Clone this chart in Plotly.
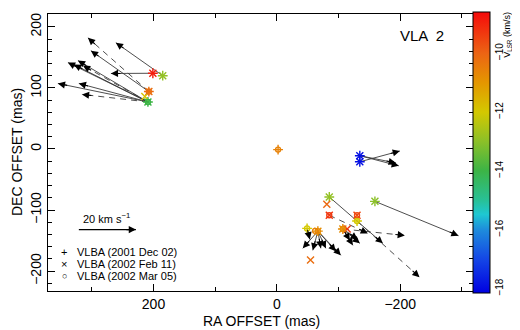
import math
import plotly.graph_objects as go

# ---------------- data (mas, km/s) ----------------
feat_ra   = [209, 201, 185, 207.5, 214, -2, -134.5, -134.5, -85, -81, -85, -130, -130, -49, -66.5, -62, -107, -114, -54.6, -159]
feat_dec  = [77, 124, 120, 94, 86, -1, -11, -21, -78.5, -90.5, -108.5, -108.5, -118, -130, -134.5, -134, -131, -131, -181.6, -85.7]
feat_vlsr = [-14.0, -8.9, -12.9, -10.2, -11.9, -10.6, -17.9, -17.9, -12.9, -10.1, -9.3, -9.6, -12.0, -12.0, -10.8, -10.6, -10.8, -9.3, -10.2, -13.0]
feat_epochs = ["pxo", "px", "px", "pxo", "x", "po", "px", "px", "px", "x", "xo", "xo", "po", "po", "pxo", "o", "pxo", "x", "x", "px"]

# proper-motion arrows: start (feature position) and tip (mas), dashed flag
arr_x0 = [209, 209, 209, 209, 209, 209, 209, 207.5, 207.5, 185, 201,
          -134.5, -134.5, -134.5,
          -85, -159, -85, -107, -130, -107, -107, -107, -107,
          -66.5, -66.5, -66.5, -66.5, -66.5, -66.5, -49]
arr_y0 = [77, 77, 77, 77, 77, 77, 77, 94, 94, 120, 124,
          -21, -11, -11,
          -78.5, -85.7, -108.5, -131, -118, -131, -131, -131, -131,
          -134.5, -134.5, -134.5, -134.5, -134.5, -134.5, -130]
arr_x1 = [355, 321, 338.7, 329, 322.5, 314.4, 316, 301.5, 306.3, 261, 269,
          -199.4, -192.9, -197.7,
          -171.8, -294.5, -147.5, -207.5, -231.3, -118.3, -123.2, -134.5, -131.3,
          -42.1, -58.3, -71.3, -79.4, -95.6, -103.7, -53.5]
arr_y1 = [107.3, 107.3, 141.5, 138.2, 144.7, 136.6, 89.4, 161, 182, 174, 123.6,
          -3.3, -22.8, -27.6,
          -154.5, -142, -138.2, -141.5, -209.8, -149.6, -157.7, -154.5, -148,
          -162.6, -165.9, -162.6, -162.6, -167.5, -174, -148]
arr_dash = [0, 0, 0, 0, 0, 1, 1, 0, 1, 0, 0,
            0, 0, 0,
            0, 0, 1, 1, 1, 0, 0, 0, 0,
            0, 0, 0, 0, 0, 0, 0]

epoch_names = ["VLBA (2001 Dec 02)", "VLBA (2002 Feb 11)", "VLBA (2002 Mar 05)"]
epoch_codes = ["p", "x", "o"]
epoch_symbols = ["cross-thin-open", "x-thin-open", "circle-open"]
epoch_glyphs = ["+", "×", "○"]

cb_ticks = [-10, -12, -14, -16, -18]
x_ticks = [200, 0, -200]
y_ticks = [200, 100, 0, -100, -200]

scale_speed = "20 km s<sup>−1</sup>"
scale_x0, scale_x1, scale_y = 321, 228.5, -132

X_RANGE = [371, -318]
Y_RANGE = [-232.5, 221]

FONT = "Liberation Sans, Arial, Helvetica, sans-serif"

# plot area in pixels
L, R, T, B = 40, 465, 4, 283
W, H = 520, 330
SX = (R - L) / (X_RANGE[1] - X_RANGE[0])   # px per mas (negative: reversed)
SY = -(B - T) / (Y_RANGE[1] - Y_RANGE[0])  # px per mas (negative: screen y down)

def px(xp):
    return (xp - L) / (R - L)

def py(yp):
    return (B - yp) / (B - T)

fig = go.Figure()

# arrow shafts
for dashed in (0, 1):
    xs, ys = [], []
    for x0, y0, x1, y1, d in zip(arr_x0, arr_y0, arr_x1, arr_y1, arr_dash):
        if d == dashed:
            xs += [x0, x1, None]
            ys += [y0, y1, None]
    fig.add_trace(go.Scatter(x=xs, y=ys, mode="lines",
                             line=dict(color="#3a3a3a", width=0.9,
                                       dash="6px,5px" if dashed else "solid"),
                             hoverinfo="skip", showlegend=False))

def head(x0, y0, x1, y1, length=10):
    dx = (x1 - x0) * SX
    dy = (y1 - y0) * SY
    n = math.hypot(dx, dy) or 1.0
    fig.add_annotation(x=x1, y=y1, ax=-dx / n * length, ay=-dy / n * length,
                       xref="x", yref="y", text="",
                       font=dict(size=1), borderpad=0,
                       showarrow=True, arrowhead=2, arrowsize=1.3, arrowwidth=1.1,
                       arrowcolor="#000000")

for x0, y0, x1, y1 in zip(arr_x0, arr_y0, arr_x1, arr_y1):
    head(x0, y0, x1, y1)

# maser spots per epoch
for code, sym in zip(epoch_codes, epoch_symbols):
    xs = [x for x, e in zip(feat_ra, feat_epochs) if code in e]
    ys = [y for y, e in zip(feat_dec, feat_epochs) if code in e]
    cs = [c for c, e in zip(feat_vlsr, feat_epochs) if code in e]
    fig.add_trace(go.Scatter(x=xs, y=ys, mode="markers",
                             marker=dict(symbol=sym, size=7 if code != "o" else 5,
                                         color=cs, coloraxis="coloraxis",
                                         line=dict(width=1.4)),
                             showlegend=False))

# velocity scale arrow
fig.add_trace(go.Scatter(x=[scale_x0, scale_x1], y=[scale_y, scale_y], mode="lines",
                         line=dict(color="black", width=1.2), hoverinfo="skip",
                         showlegend=False))
head(scale_x0, scale_y, scale_x1, scale_y)
fig.add_annotation(x=px(73), y=py(209), xref="paper", yref="paper", text=scale_speed,
                   showarrow=False, xanchor="left", yanchor="middle",
                   font=dict(family=FONT, size=11, color="black"))

# legend (text)
for i, (g, name) in enumerate(zip(epoch_glyphs, epoch_names)):
    yy = 244 + i * 11.7
    fig.add_annotation(x=px(56), y=py(yy), xref="paper", yref="paper", text=g,
                       showarrow=False, xanchor="center", yanchor="middle", borderpad=0,
                       font=dict(family=FONT, size=11 if i < 2 else 9, color="black"))
    fig.add_annotation(x=px(68), y=py(yy), xref="paper", yref="paper", text=name,
                       showarrow=False, xanchor="left", yanchor="middle", borderpad=0,
                       font=dict(family=FONT, size=11, color="black"))

# VLA 2 label
fig.add_annotation(x=px(414), y=py(26), xref="paper", yref="paper", text="VLA  2",
                   showarrow=False, xanchor="center", yanchor="middle",
                   font=dict(family=FONT, size=15, color="black"))

# axis titles
fig.add_annotation(x=px(253), y=py(313), xref="paper", yref="paper", text="RA OFFSET (mas)",
                   showarrow=False, xanchor="center", yanchor="middle",
                   font=dict(family=FONT, size=14, color="black"))
fig.add_annotation(x=px(9), y=py(143), xref="paper", yref="paper", text="DEC OFFSET (mas)",
                   showarrow=False, textangle=-90, xanchor="center", yanchor="middle",
                   font=dict(family=FONT, size=14, color="black"))

# colorbar title
fig.add_annotation(x=px(500), y=py(25), xref="paper", yref="paper",
                   text="V<sub>LSR</sub> (km/s)",
                   showarrow=False, textangle=-90, xanchor="center", yanchor="middle",
                   borderpad=0,
                   font=dict(family=FONT, size=9, color="black"))

colorscale = [
    [0.0, "rgb(0,0,225)"],
    [0.12, "rgb(20,70,230)"],
    [0.225, "rgb(30,140,220)"],
    [0.28, "rgb(30,200,210)"],
    [0.33, "rgb(40,192,150)"],
    [0.435, "rgb(60,180,70)"],
    [0.54, "rgb(140,192,40)"],
    [0.644, "rgb(212,200,0)"],
    [0.75, "rgb(228,150,0)"],
    [0.853, "rgb(236,100,20)"],
    [1.0, "rgb(245,10,10)"],
]

axis_common = dict(showline=True, linecolor="black", linewidth=1, mirror="ticks",
                   ticks="inside", tickcolor="black", ticklen=7, tickwidth=1,
                   showgrid=False, zeroline=False,
                   tickfont=dict(family=FONT, size=14, color="black"))

fig.update_layout(
    width=W, height=H,
    margin=dict(l=L, r=W - R, t=T, b=H - B, pad=0),
    paper_bgcolor="white", plot_bgcolor="white",
    showlegend=False,
    xaxis=dict(range=X_RANGE, tickvals=x_ticks,
               ticktext=[f"{v}".replace("-", "−") for v in x_ticks],
               minor=dict(tickvals=[300, 100, -100, -300], ticks="inside", ticklen=4,
                          tickcolor="black", showgrid=False),
               **axis_common),
    yaxis=dict(range=Y_RANGE, tickvals=y_ticks, tickangle=-90,
               ticktext=[f"{v}".replace("-", "−") for v in y_ticks],
               minor=dict(dtick=20, tick0=0, ticks="inside", ticklen=4,
                          tickcolor="black", showgrid=False),
               **axis_common),
    coloraxis=dict(
        colorscale=colorscale, cmin=-18.15, cmax=-8.6,
        colorbar=dict(
            x=px(465), xanchor="left", xpad=0,
            y=py(2), yanchor="top", ypad=0,
            len=281, lenmode="pixels",
            thickness=17, thicknessmode="pixels",
            outlinewidth=1, outlinecolor="black",
            tickvals=cb_ticks, ticktext=[f"{v}".replace("-", "−") for v in cb_ticks],
            ticks="", tickangle=-90,
            tickfont=dict(family=FONT, size=10, color="black"),
        ),
    ),
)

fig.write_html("out.html")
